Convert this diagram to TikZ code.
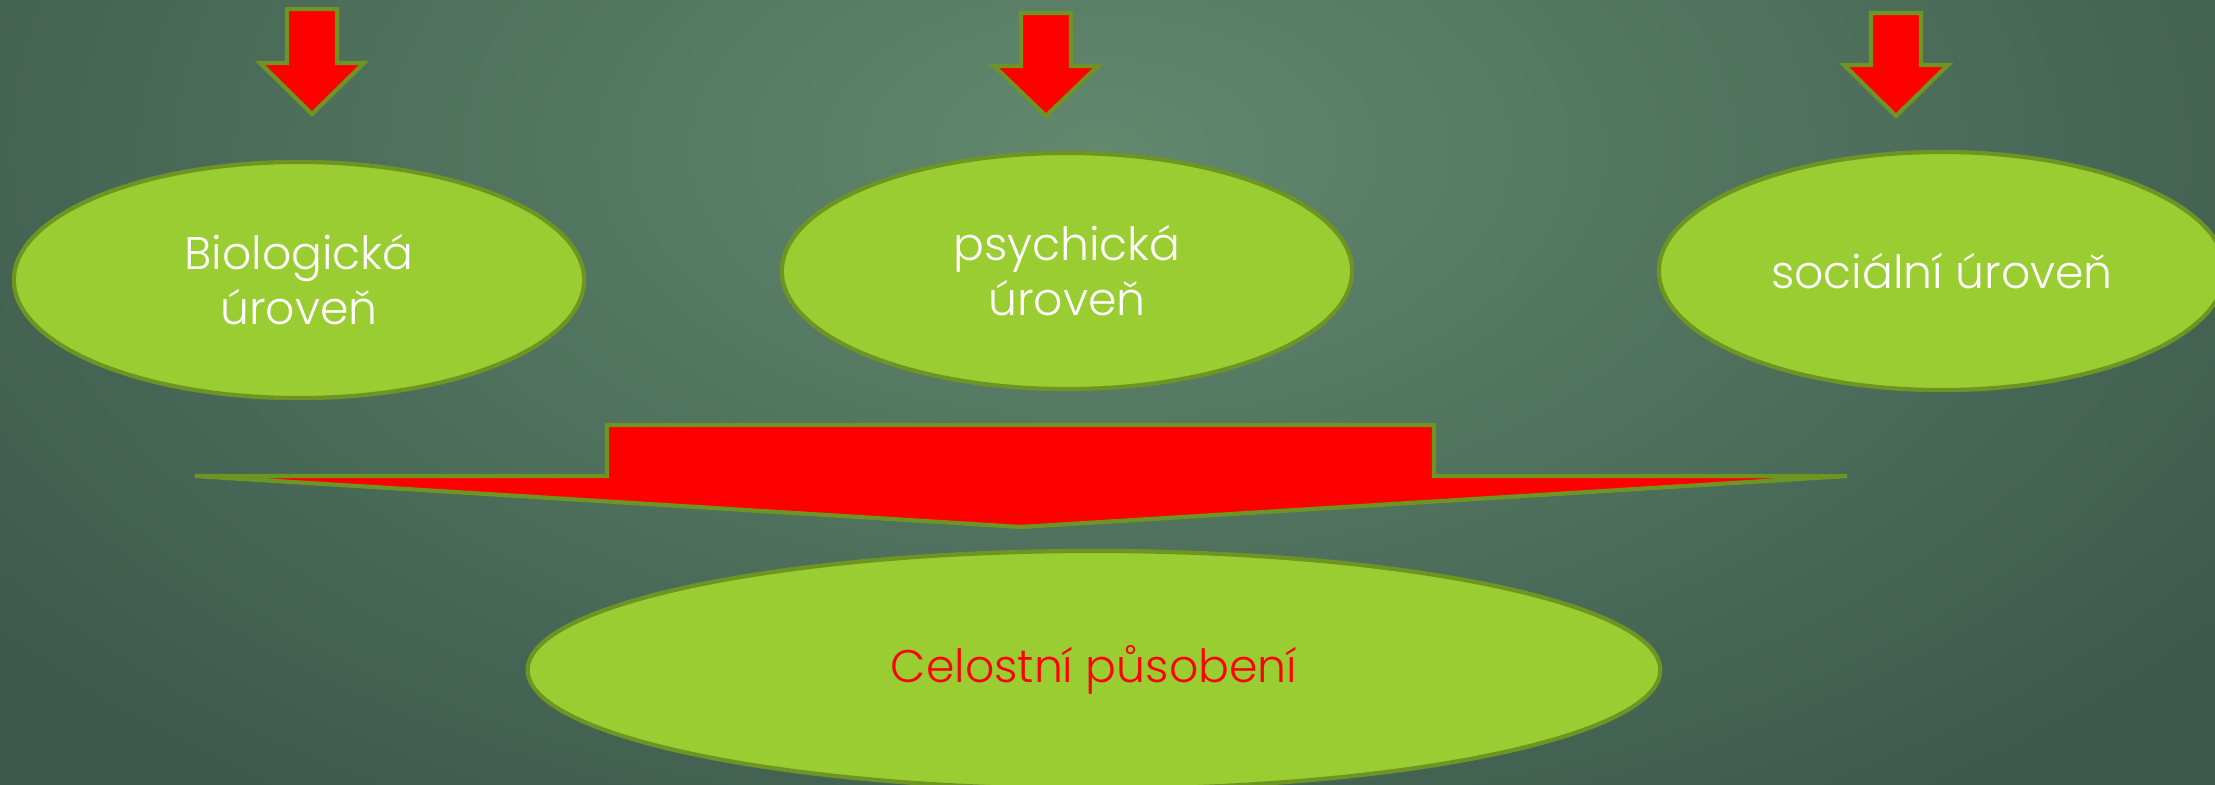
\documentclass[tikz,border=0pt]{standalone}
\usepackage{fontspec}
\setmainfont{Poppins}[UprightFont={* Light}]
\usepackage{tikz}
\usetikzlibrary{shapes.geometric}
\definecolor{bgdark}{RGB}{60,90,76}
\definecolor{bglight}{RGB}{98,136,110}
\definecolor{leaf}{RGB}{154,205,50}
\definecolor{olive}{RGB}{110,148,36}

\begin{document}
\begin{tikzpicture}[x=0.01cm, y=-0.01cm,
	level/.style={ellipse, draw=olive, fill=leaf, line width=1.2pt, inner sep=0pt, text=white, align=center, font=\fontsize{13}{15.6}\selectfont},
	downarrow/.style={fill=red, draw=olive, line width=1.2pt}]
		\useasboundingbox (0,0) rectangle (2215,784);
		\fill[bgdark] (-20,-20) rectangle (2235,804);
		\begin{scope}
			\clip (-20,-20) rectangle (2235,804);
			\shade[inner color=bglight, outer color=bgdark] (1100,150) ellipse (1400 and 800);
		\end{scope}
		\node[level, minimum width=5.70cm, minimum height=2.36cm] (bio) at (299,280) {Biologická\\úroveň};
		\node[level, minimum width=5.70cm, minimum height=2.36cm] (psy) at (1067,271) {psychická\\úroveň};
		\node[level, minimum width=5.66cm, minimum height=2.38cm] (soc) at (1942,271) {sociální úroveň};
		\node[level, text=red, minimum width=11.32cm, minimum height=2.38cm] (whole) at (1094,670) {Celostní působení};
		\filldraw[downarrow] (287,9) -- (337,9) -- (337,63) -- (364,63) -- (312,114) -- (260,63) -- (287,63) -- cycle;
		\filldraw[downarrow] (1021,13) -- (1071,13) -- (1071,66) -- (1098,66) -- (1046,116) -- (994,66) -- (1021,66) -- cycle;
		\filldraw[downarrow] (1871,13) -- (1921,13) -- (1921,65) -- (1948,65) -- (1896,116) -- (1844,65) -- (1871,65) -- cycle;
		\filldraw[downarrow] (607,425) -- (1434,425) -- (1434,476) -- (1847,476) -- (1021,527) -- (195,476) -- (607,476) -- cycle;
	\end{tikzpicture}
\end{document}
